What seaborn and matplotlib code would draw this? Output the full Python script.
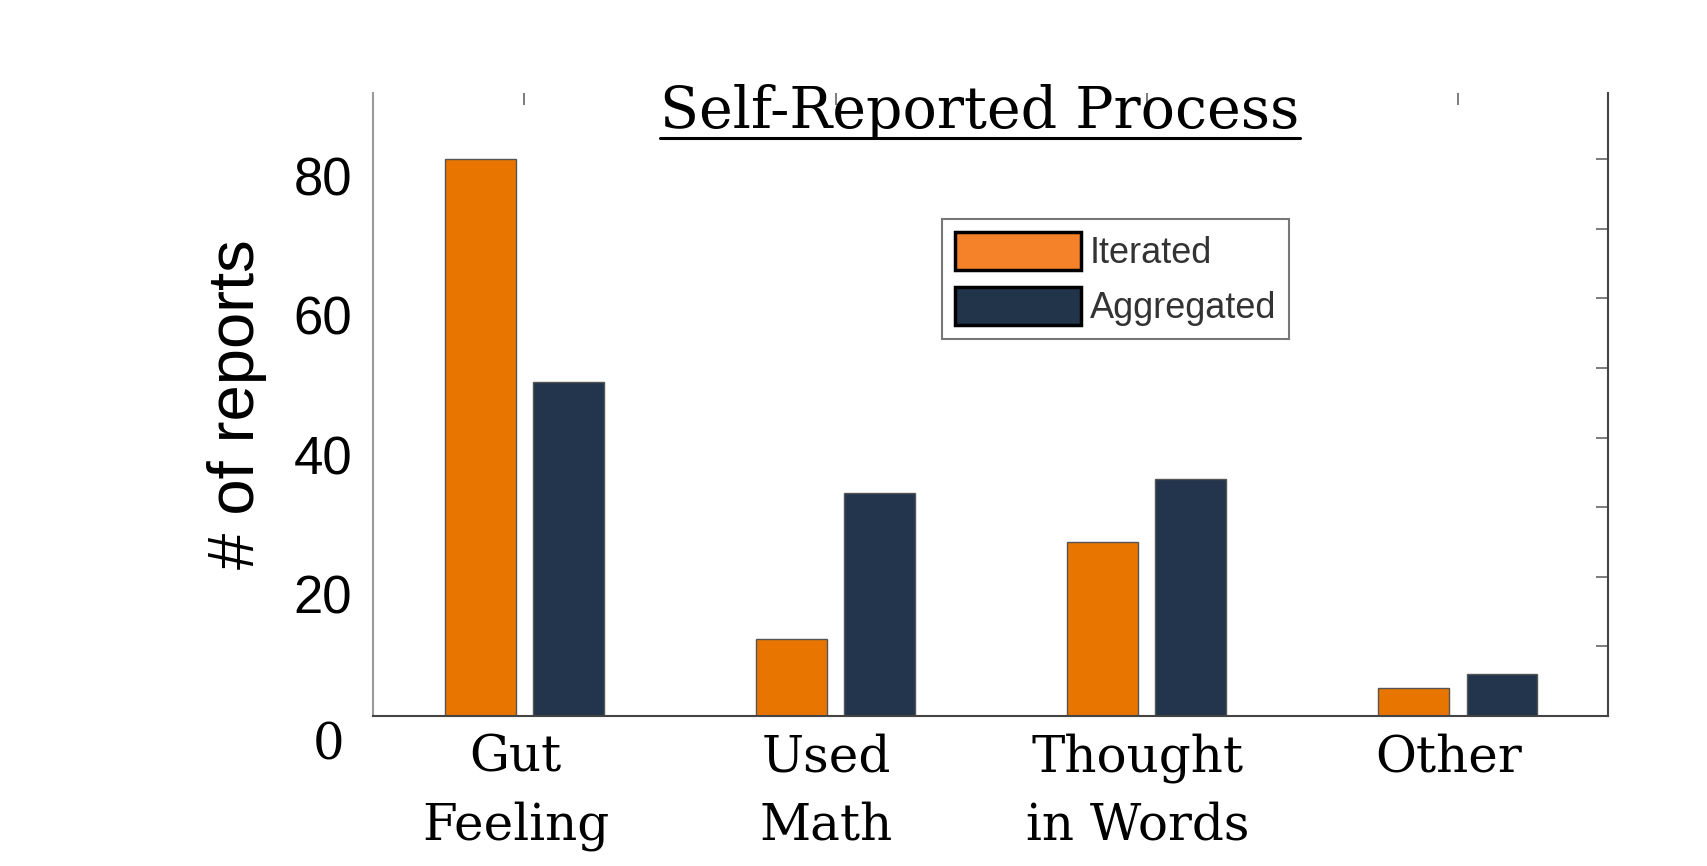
import matplotlib
matplotlib.use('Agg')
import matplotlib.pyplot as plt
from matplotlib.ticker import MultipleLocator
from matplotlib.lines import Line2D
from matplotlib.transforms import ScaledTranslation
import pandas as pd
import seaborn as sns

# values
processes = ["Gut\nFeeling", "Used\nMath", "Thought\nin Words", "Other"]
iterated = [80, 11, 25, 4]
aggregated = [48, 32, 34, 6]
conditions = ["Iterated", "Aggregated"]

df = pd.DataFrame({
    "process": processes * 2,
    "reports": iterated + aggregated,
    "condition": [conditions[0]] * len(processes) + [conditions[1]] * len(processes),
})

orange = "#E87500"
navy = "#22354C"

sns.set_style("white")
plt.rcParams['font.family'] = ['Liberation Sans', 'DejaVu Sans']
plt.rcParams['text.color'] = 'black'
plt.rcParams['axes.labelcolor'] = 'black'
plt.rcParams['xtick.labelcolor'] = 'black'
plt.rcParams['ytick.labelcolor'] = 'black'

fig = plt.figure(figsize=(17.07, 8.66), dpi=100)
ax = fig.add_axes([0.2185, 0.1732, 0.7235, 0.7194])

sns.barplot(data=df, x="process", y="reports", hue="condition",
            palette=[orange, navy], saturation=1, width=0.568, gap=0.2,
            edgecolor="#555555", linewidth=1, ax=ax)

ax.set_xlim(-0.487, 3.483)
ax.set_ylim(0, 89.5)
ax.set_yticks([20, 40, 60, 80])
ax.yaxis.set_minor_locator(MultipleLocator(10))
ax.tick_params(axis='both', which='both', direction='in', length=8.5,
               width=1.2, color='#666666', top=True, right=True)
ax.tick_params(axis='x', which='minor', top=False, bottom=False)
ax.tick_params(axis='y', labelsize=38, pad=15)
ax.tick_params(axis='x', labelsize=36, pad=12)

# the slide's labels sit a little off their ticks
down = ScaledTranslation(0, -0.17, fig.dpi_scale_trans)
for lab in ax.get_yticklabels():
    lab.set_transform(lab.get_transform() + down)
left = ScaledTranslation(-0.09, 0, fig.dpi_scale_trans)
for lab in ax.get_xticklabels():
    lab.set_fontfamily('DejaVu Serif')
    lab.set_linespacing(1.48)
    lab.set_transform(lab.get_transform() + left)

ax.set_xlabel("")
ax.set_ylabel("# of reports", fontsize=47)
ax.yaxis.set_label_coords(-0.086, 0.5)

for side in ['left', 'right', 'bottom']:
    ax.spines[side].set_visible(True)
    ax.spines[side].set_linewidth(1.5)
ax.spines['left'].set_color('#999999')
ax.spines['bottom'].set_color('#444444')
ax.spines['right'].set_color('#444444')
ax.spines['top'].set_visible(False)

# stray "0" label that sits below the axis on the slide
ax.text(-0.0356, -0.047, "0", transform=ax.transAxes, ha='center', va='center',
        fontsize=36, fontfamily='DejaVu Serif')

leg = ax.legend(loc='upper left', bbox_to_anchor=(0.4607, 0.7978), borderaxespad=0,
                fontsize=26, frameon=True, fancybox=False, handlelength=3.5,
                handleheight=1.25, handletextpad=0.25, labelspacing=0.45,
                borderpad=0.35, title=None)
leg.get_frame().set_edgecolor('#555555')
leg.get_frame().set_linewidth(1.5)
for h, c in zip(leg.legend_handles, ["#F58229", "#21344A"]):
    h.set_facecolor(c)
    h.set_edgecolor('black')
    h.set_linewidth(2.5)
for t in leg.get_texts():
    t.set_color('#333333')

title = fig.text(0.5741, 0.852, "Self-Reported Process", ha='center', va='baseline',
                 fontsize=41, fontfamily='DejaVu Serif')

fig.canvas.draw()
bb = title.get_window_extent(fig.canvas.get_renderer())
W, H = fig.bbox.width, fig.bbox.height
fig.add_artist(Line2D([bb.x0 / W, bb.x1 / W], [0.8406, 0.8406], color='black',
                      linewidth=2.2, transform=fig.transFigure))

fig.savefig('out.png', dpi=100)
